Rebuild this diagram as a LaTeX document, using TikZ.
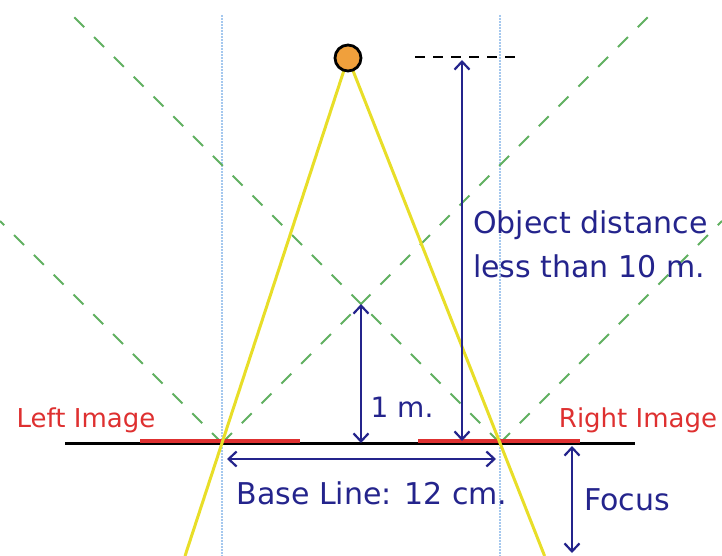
\documentclass[tikz,border=0pt]{standalone}
\usepackage{fontspec}
\setmainfont{DejaVu Sans}
\usetikzlibrary{arrows.meta,calc}

\definecolor{navy}{RGB}{36,36,140}
\definecolor{imgred}{RGB}{222,48,48}
\definecolor{rayyellow}{RGB}{232,222,40}
\definecolor{diaggreen}{RGB}{96,176,96}
\definecolor{axisblue}{RGB}{165,200,238}
\definecolor{objorange}{RGB}{240,160,60}

\begin{document}
\begin{tikzpicture}[
      x=1pt, y=-1pt,
      >={Straight Barb[length=8pt,width=15pt]},
      ray/.style={draw=rayyellow, line width=3pt},
      axis/.style={draw=axisblue, densely dotted, line width=2pt},
      diag/.style={draw=diaggreen, dash pattern=on 14pt off 14pt, line width=2pt},
      measure/.style={<->, draw=navy, line width=2.2pt},
      lbl/.style={text=navy, font=\fontsize{30}{44}\selectfont, inner sep=0pt},
      imglbl/.style={text=imgred, font=\fontsize{26}{30}\selectfont, inner sep=0pt},
    ]
    \useasboundingbox (0,0) rectangle (722,556);

    % camera centres, object, crossing of the 45 degree lines
    \coordinate (L) at (222,443);
    \coordinate (R) at (500,443);
    \coordinate (obj) at (348,58);
    \coordinate (mid) at (361,304);

    % optical axes
    \draw[axis] (L |- 0,15) -- (L |- 0,556);
    \draw[axis] (R |- 0,15) -- (R |- 0,556);

    % 45 degree limits
    \draw[diag] (L) -- (0,221);
    \draw[diag] (L) -- (650,15);
    \draw[diag] (R) -- (72,15);
    \draw[diag] (R) -- (722,221);

    % base line and image planes
    \draw[line width=3pt] (65,443) -- (635,443);
    \draw[imgred, line width=4.5pt] (140,441) -- (300,441);
    \draw[imgred, line width=4.5pt] (418,441) -- (580,441);

    % rays from the object
    \draw[ray] (obj) -- ($(obj)!1.2935!(L)$);
    \draw[ray] (obj) -- ($(obj)!1.2935!(R)$);

    % object
    \draw[dashed, dash pattern=on 10pt off 8pt, line width=2.2pt] (415,57) -- (522,57);
    \node[circle, draw=black, fill=objorange, line width=2.8pt, minimum size=26pt,
          inner sep=0pt] (point) at (obj) {};

    % measures
    \coordinate (odtop) at (462,60);
    \coordinate (odbot) at (462,441);
    \draw[measure] (odtop) -- (odbot);
    \draw[measure] (mid) -- (mid |- L);
    \coordinate (bl1) at (227,459);
    \coordinate (bl2) at (496,459);
    \draw[measure] (bl1) -- (bl2);
    \coordinate (fc1) at (572,446);
    \coordinate (fc2) at (572,553);
    \draw[measure] (fc1) -- (fc2);

    % labels
    \node[lbl, anchor=west, align=left] (odtext) at (473,244) {Object distance\\less than 10 m.};
    \node[lbl, font=\fontsize{28}{32}\selectfont] (onem) at (402,407) {1 m.};
    \node[lbl] (basetext) at (372,493) {Base Line: 12 cm.};
    \node[lbl] (focustext) at (627,500) {Focus};
    \node[imglbl] (lefttext) at (86,420) {Left Image};
    \node[imglbl] (righttext) at (638,420) {Right Image};
  \end{tikzpicture}
\end{document}
